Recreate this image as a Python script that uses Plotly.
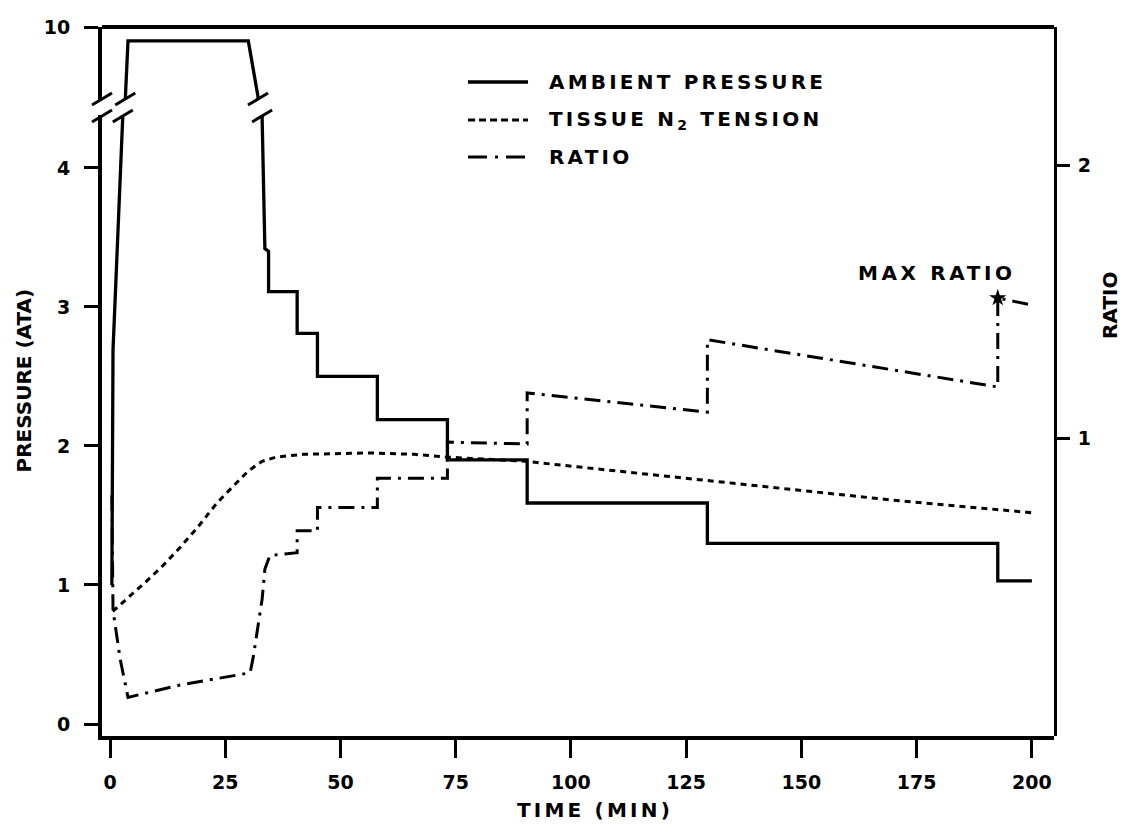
import plotly.graph_objects as go

# ---- data -------------------------------------------------------------
# Ambient pressure (ATA) over the dive profile
time_ambient = [0.4, 0.65, 2.8, 3.3, 3.9, 30.0, 32.1, 33.0, 33.6, 34.4, 34.4,
                40.6, 40.6, 45.0, 45.0, 58.0, 58.0, 73.2, 73.2, 90.5, 90.5,
                129.6, 129.6, 192.6, 192.6, 200.0]
ambient_ata = [1.00, 2.69, 4.40, 9.47, 9.90, 9.90, 9.50, 4.36, 3.42, 3.40, 3.11,
               3.11, 2.81, 2.81, 2.50, 2.50, 2.19, 2.19, 1.90, 1.90, 1.59,
               1.59, 1.30, 1.30, 1.03, 1.03]

# Tissue N2 tension (ATA)
time_tissue = [0.6, 3.7, 8.0, 11.5, 15.2, 18.9, 23.2, 27.0, 30.0, 33.0, 36.0,
               42.0, 56.0, 66.0, 73.0, 90.0, 110.0, 130.0, 150.0, 170.0, 190.0, 200.0]
tissue_n2 = [0.81, 0.90, 1.03, 1.14, 1.27, 1.41, 1.59, 1.72, 1.82, 1.89, 1.92,
             1.94, 1.95, 1.94, 1.92, 1.89, 1.82, 1.75, 1.68, 1.61, 1.55, 1.52]

# Tension / ambient ratio
time_ratio = [0.4, 0.65, 2.2, 3.9, 15.2, 30.4, 31.1, 33.0, 33.6, 34.7, 40.6,
              40.6, 45.0, 45.0, 58.0, 58.0, 73.2, 73.2, 90.5, 90.5, 129.6,
              129.6, 192.6, 192.6, 200.0]
ratio = [0.79, 0.37, 0.19, 0.05, 0.095, 0.14, 0.20, 0.41, 0.52, 0.57, 0.58,
         0.66, 0.66, 0.745, 0.745, 0.853, 0.853, 0.985, 0.978, 1.165, 1.095,
         1.36, 1.187, 1.513, 1.487]

x_ticks = [0, 25, 50, 75, 100, 125, 150, 175, 200]
p_ticks_low = [0, 1, 2, 3, 4]
p_ticks_high = [10]
ratio_ticks = [1, 2]

# ---- axis geometry (broken pressure axis) -----------------------------
LOW_RANGE = [-0.0863, 4.381]
LOW_DOMAIN = [0.0, 0.8759]
HIGH_RANGE = [9.475, 10.0]
HIGH_DOMAIN = [0.897, 1.0]
RATIO_RANGE = [-0.0916, 2.5055]
X_RANGE = [-1.74, 204.8]

INK = "black"
TEXT_FONT = dict(family="DejaVu Sans", size=20, color=INK, weight="bold")
TICK_FONT = dict(family="DejaVu Sans", size=19, color=INK, weight="bold")
TISSUE_DASH = "6px,5px"
RATIO_DASH = "16px,7px,3px,7px"


def spaced(text, px=3.2):
    """Letter-spaced label text (stencil-style lettering)."""
    return "<span style='letter-spacing:%.1fpx'>%s</span>" % (px, text)


fig = go.Figure()

fig.add_trace(go.Scatter(x=time_tissue, y=tissue_n2, xaxis="x", yaxis="y",
                         mode="lines", name="TISSUE N2 TENSION",
                         line=dict(color=INK, width=3, dash=TISSUE_DASH)))
fig.add_trace(go.Scatter(x=time_ratio, y=ratio, xaxis="x", yaxis="y2",
                         mode="lines", name="RATIO",
                         line=dict(color=INK, width=3, dash=RATIO_DASH)))
# ambient pressure is drawn on both halves of the broken axis; each half clips it
for yax in ("y", "y3"):
    fig.add_trace(go.Scatter(x=time_ambient, y=ambient_ata, xaxis="x", yaxis=yax,
                             mode="lines", name="AMBIENT PRESSURE",
                             line=dict(color=INK, width=3.3)))

# maximum ratio marker
i_max = max(range(len(ratio)), key=ratio.__getitem__)
fig.add_trace(go.Scatter(x=[time_ratio[i_max]], y=[ratio[i_max]], xaxis="x", yaxis="y2",
                         mode="markers", name="MAX RATIO",
                         marker=dict(symbol="star", size=13, color=INK)))

common_axis = dict(showgrid=False, zeroline=False, showline=True, linecolor=INK,
                   ticks="outside", tickcolor=INK, tickfont=TICK_FONT)

fig.update_layout(
    width=1127, height=831,
    margin=dict(l=102, r=73, t=27, b=95),
    paper_bgcolor="white", plot_bgcolor="rgba(0,0,0,0)",
    showlegend=False, font=TEXT_FONT,
    xaxis=dict(common_axis, range=X_RANGE, domain=[0, 1], anchor="y",
               tickvals=x_ticks, ticklen=18, tickwidth=3, linewidth=4,
               ticklabelstandoff=8),
    yaxis=dict(common_axis, range=LOW_RANGE, domain=LOW_DOMAIN, anchor="x",
               tickvals=p_ticks_low, ticklen=14, tickwidth=3, linewidth=4,
               ticklabelstandoff=10),
    yaxis3=dict(common_axis, range=HIGH_RANGE, domain=HIGH_DOMAIN, anchor="x",
                tickvals=p_ticks_high, ticklen=14, tickwidth=3, linewidth=4,
                ticklabelstandoff=10),
    yaxis2=dict(common_axis, range=RATIO_RANGE, domain=[0, 1], anchor="x",
                side="right", tickvals=ratio_ticks, ticklen=13, tickwidth=3,
                linewidth=3, ticklabelstandoff=4),
)

# frame top edge
fig.add_shape(type="line", xref="paper", yref="paper", x0=0, x1=1, y0=1, y1=1,
              line=dict(color=INK, width=4))


def crossing(ts, vs, level, rising=True):
    """Time at which a piecewise-linear series first crosses `level`."""
    for (t0, v0), (t1, v1) in zip(zip(ts, vs), zip(ts[1:], vs[1:])):
        if rising and v0 < level <= v1 or (not rising) and v0 > level >= v1:
            return t0 + (level - v0) / (v1 - v0) * (t1 - t0)
    return None


def break_mark(xref, xpos, ypaper, dy):
    fig.add_shape(type="line", xref=xref, yref="paper",
                  xsizemode="pixel", xanchor=xpos, x0=-10, x1=10,
                  ysizemode="pixel", yanchor=ypaper, y0=dy - 6, y1=dy + 6,
                  line=dict(color=INK, width=3))


# axis break on the pressure scale
break_mark("paper", 0, HIGH_DOMAIN[0], 1)
break_mark("paper", 0, LOW_DOMAIN[1], -1)
# breaks where the ambient pressure line passes the gap
for rising in (True, False):
    t_low = crossing(time_ambient, ambient_ata, LOW_RANGE[1], rising)
    t_high = crossing(time_ambient, ambient_ata, HIGH_RANGE[0], rising)
    break_mark("x", t_high, HIGH_DOMAIN[0], 1)
    break_mark("x", t_low, LOW_DOMAIN[1], -1)

# legend drawn as line samples with labels
legend_rows = [
    ("AMBIENT PRESSURE", "solid", 3.3, 0.9224),
    ("TISSUE N<sub>2</sub> TENSION", "7px,4px", 3, 0.8688),
    ("RATIO", "19px,8px,3px,8px", 3, 0.8166),
]
for label, dash, width, yp in legend_rows:
    fig.add_shape(type="line", xref="paper", yref="paper",
                  x0=0.3845, x1=0.4475, y0=yp, y1=yp,
                  line=dict(color=INK, width=width, dash=dash))
    fig.add_annotation(xref="paper", yref="paper", x=0.4674, y=yp, text=spaced(label),
                       showarrow=False, xanchor="left", yanchor="middle",
                       font=TEXT_FONT)

# axis titles
fig.add_annotation(xref="paper", yref="paper", x=0.518, y=-0.104,
                   text=spaced("TIME (MIN)"), showarrow=False, font=TEXT_FONT,
                   xanchor="center", yanchor="middle")
fig.add_annotation(xref="paper", yref="paper", x=-0.0815, y=0.502,
                   text="PRESSURE (ATA)", showarrow=False, textangle=-90,
                   font=TEXT_FONT, xanchor="center", yanchor="middle")
fig.add_annotation(xref="paper", yref="paper", x=1.0588, y=0.608,
                   text="RATIO", showarrow=False, textangle=-90,
                   font=TEXT_FONT, xanchor="center", yanchor="middle")

# label for the maximum ratio
fig.add_annotation(x=time_ratio[i_max], y=ratio[i_max], xref="x", yref="y2",
                   text=spaced("MAX RATIO", 3.6), showarrow=False, xanchor="right",
                   yanchor="middle", xshift=20, yshift=25, font=TEXT_FONT)

fig.write_html("out.html")
